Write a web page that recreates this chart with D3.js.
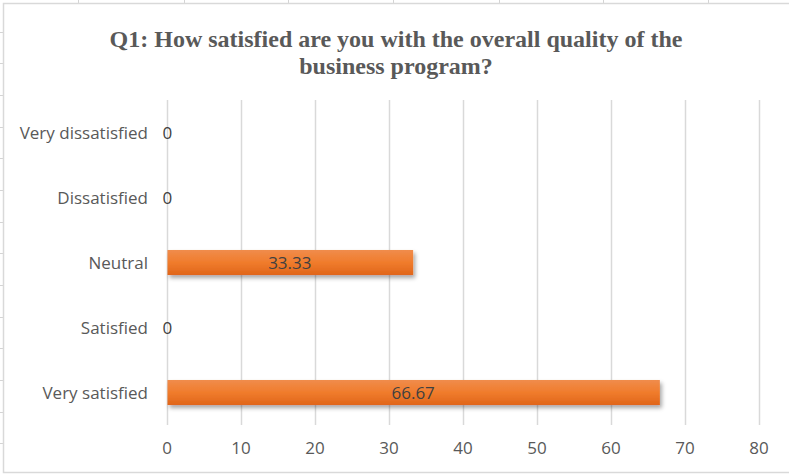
<!DOCTYPE html>
<html>
<head>
<meta charset="utf-8">
<script src="https://cdn.jsdelivr.net/npm/d3@7"></script>
<style>
  html, body { margin: 0; padding: 0; background: #fff; }
  svg { display: block; }
</style>
</head>
<body>
<svg id="chart" width="789" height="476"></svg>
<script>
const categories = ["Very dissatisfied", "Dissatisfied", "Neutral", "Satisfied", "Very satisfied"];
const values = [0, 0, 33.33, 0, 66.67];
const xTicks = [0, 10, 20, 30, 40, 50, 60, 70, 80];
const titleLines = ["Q1: How satisfied are you with the overall quality of the", "business program?"];

const W = 789, H = 476;
const svg = d3.select("#chart");

// spreadsheet background cells
const bg = svg.append("g");
[78, 184, 288, 393, 499, 603, 708].forEach(x => {
  bg.append("line").attr("x1", x + 0.5).attr("x2", x + 0.5).attr("y1", 0).attr("y2", 3).attr("stroke", "#d4d4d4");
});
[32, 63, 95, 127, 158, 190, 222, 253, 285, 317, 348, 380, 412, 443].forEach(y => {
  bg.append("line").attr("x1", 0).attr("x2", 3).attr("y1", y + 0.5).attr("y2", y + 0.5).attr("stroke", "#d4d4d4");
});

// chart area
svg.append("rect").attr("x", 3.5).attr("y", 3.5).attr("width", W + 10).attr("height", 469)
  .attr("fill", "#fff").attr("stroke", "#d9d9d9").attr("stroke-width", 1.5);

const defs = svg.append("defs");
const grad = defs.append("linearGradient").attr("id", "barGrad").attr("x1", 0).attr("y1", 0).attr("x2", 0).attr("y2", 1);
grad.append("stop").attr("offset", "0%").attr("stop-color", "#f08c4c");
grad.append("stop").attr("offset", "50%").attr("stop-color", "#f07c2c");
grad.append("stop").attr("offset", "100%").attr("stop-color", "#e0651a");
const filt = defs.append("filter").attr("id", "shadow").attr("x", "-10%").attr("y", "-50%").attr("width", "130%").attr("height", "250%");
filt.append("feDropShadow").attr("dx", 2).attr("dy", 3).attr("stdDeviation", 2.2)
  .attr("flood-color", "#000").attr("flood-opacity", 0.35);

const x = d3.scaleLinear().domain([0, 80]).range([166.5, 758.5]);
const y = d3.scaleBand().domain(categories).range([100, 425]).paddingInner(0.615).paddingOuter(0.3075);

const FONT = "'Open Sans', sans-serif";

// gridlines
svg.append("g").selectAll("line").data(xTicks).join("line")
  .attr("x1", d => Math.round(x(d)) + 0.5).attr("x2", d => Math.round(x(d)) + 0.5)
  .attr("y1", 100).attr("y2", 425)
  .attr("stroke", "#d9d9d9").attr("stroke-width", 1.5);

// x axis labels
const xAxis = d3.axisBottom(x).tickValues(xTicks).tickSize(0).tickPadding(0);
const xg = svg.append("g").attr("transform", "translate(0,442)").call(xAxis);
xg.select(".domain").remove();
xg.selectAll("text").attr("font-family", FONT).attr("font-size", 17)
  .attr("fill", "#595959").attr("dy", "0.71em");

// y axis labels
const yAxis = d3.axisLeft(y).tickSize(0).tickPadding(0);
const yg = svg.append("g").attr("transform", "translate(148,0)").call(yAxis);
yg.select(".domain").remove();
yg.selectAll("text").attr("font-family", FONT).attr("font-size", 17)
  .attr("fill", "#595959").attr("dy", "0.36em");

// bars
const data = categories.map((c, i) => ({ c, v: values[i] }));
svg.append("g").selectAll("rect").data(data.filter(d => d.v > 0)).join("rect")
  .attr("x", x(0) + 1).attr("y", d => y(d.c))
  .attr("width", d => x(d.v) - x(0) - 1).attr("height", y.bandwidth())
  .attr("fill", "url(#barGrad)").attr("filter", "url(#shadow)");

// value labels
svg.append("g").selectAll("text").data(data).join("text")
  .attr("x", d => d.v > 0 ? (x(0) + x(d.v)) / 2 : x(0) - 4)
  .attr("y", d => y(d.c) + y.bandwidth() / 2)
  .attr("dy", "0.38em")
  .attr("text-anchor", d => d.v > 0 ? "middle" : "start")
  .attr("font-family", FONT).attr("font-size", 17)
  .attr("fill", "#404040")
  .text(d => d.v);

// title
const title = svg.append("text").attr("text-anchor", "middle")
  .attr("font-family", "'Liberation Serif', 'Times New Roman', serif").attr("font-weight", "bold")
  .attr("font-size", 24).attr("fill", "#595959");
titleLines.forEach((t, i) => {
  title.append("tspan").attr("x", 396).attr("y", 47 + i * 27).text(t);
});
</script>
</body>
</html>
